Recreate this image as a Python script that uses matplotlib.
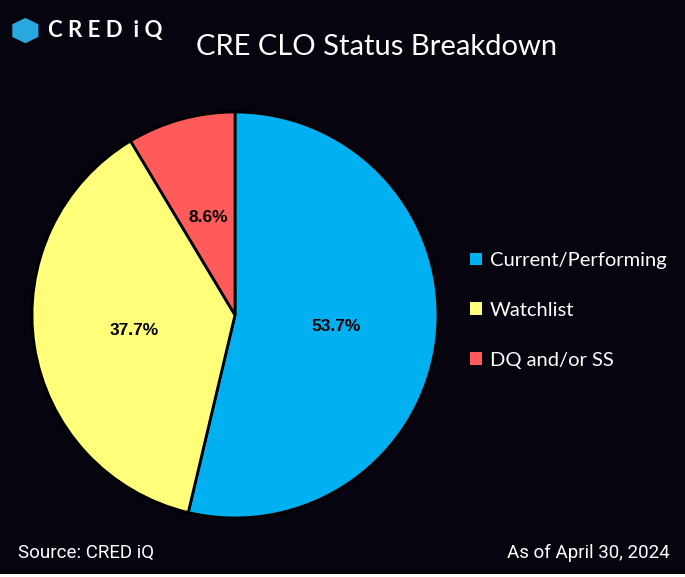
import matplotlib.pyplot as plt
from matplotlib.patches import RegularPolygon, Rectangle

# Chart data
labels = ["Current/Performing", "Watchlist", "DQ and/or SS"]
shares = [53.7, 37.7, 8.6]
colors = ["#00B0F0", "#FFFF7A", "#FF5B5B"]

title = "CRE CLO Status Breakdown"
source_note = "Source: CRED iQ"
date_note = "As of April 30, 2024"

bg = "#05040F"

fig = plt.figure(figsize=(6.85, 5.77), dpi=100, facecolor=bg)

# pie axes, placed so the circle sits left of the legend
ax = fig.add_axes([0.0467, 0.1023, 0.5927, 0.7036])
ax.set_facecolor(bg)
wedges, _, autotexts = ax.pie(
    shares, colors=colors, startangle=90, counterclock=False,
    autopct=lambda p: f"{p:.1f}%", pctdistance=0.5,
    wedgeprops=dict(edgecolor="black", linewidth=2),
    textprops=dict(color="black", fontsize=12.5, fontweight="bold", family="Liberation Sans"),
)
ax.set_xlim(-1.0, 1.0)
ax.set_ylim(-1.0, 1.0)
ax.set_aspect("equal")

# legend with square markers
leg = fig.legend(
    wedges, labels, loc="center left", bbox_to_anchor=(0.659, 0.462),
    frameon=False, labelcolor="white", handlelength=0.6, handleheight=0.6,
    handletextpad=0.4, labelspacing=1.63, prop=dict(family="Lato", size=14.5),
)
for h in leg.legend_handles:
    h.set_edgecolor("none")

# title and footer text
fig.text(0.549, 0.918, title, color="white", fontsize=21, family="Lato",
         ha="center", va="center")
fig.text(0.026, 0.042, source_note, color="white", fontsize=13.5, family="Roboto",
         ha="left", va="center")
fig.text(0.978, 0.042, date_note, color="white", fontsize=13.5, family="Roboto",
         ha="right", va="center")

# simple logo: blue hexagon mark plus spaced wordmark
fig.patches.append(RegularPolygon((0.037, 0.947), numVertices=6, radius=0.022,
                                  orientation=0, facecolor="#29A8E0",
                                  edgecolor="none", transform=fig.transFigure))
fig.text(0.07, 0.947, "C R E D  i Q", color="white", fontsize=16, family="Lato",
         fontweight="bold", ha="left", va="center")

# thin white strip along the bottom edge
fig.patches.append(Rectangle((0, 0), 1, 3 / 577, facecolor="white",
                             edgecolor="none", transform=fig.transFigure))

fig.savefig("out.png", dpi=100, facecolor=bg)
